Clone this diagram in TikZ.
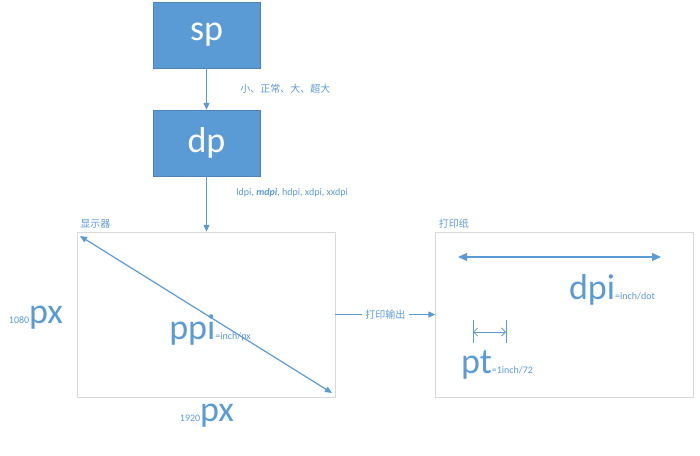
\documentclass[tikz,border=0pt]{standalone}
\usepackage{fontspec}
\setmainfont{Carlito}
\newfontfamily\cjk{Noto Sans CJK SC}
\usetikzlibrary{arrows.meta}
\definecolor{unitblue}{HTML}{5B9BD5}
\definecolor{framegray}{HTML}{D9D9D9}
\newcommand{\smallsize}{\fontsize{10}{11}\selectfont}
\newcommand{\bigsize}{\fontsize{36}{38}\selectfont}
\tikzset{
	unitbox/.style={fill=unitblue, draw=unitblue!85!black, text=white, minimum width=107pt, minimum height=66pt, font=\bigsize},
	device/.style={draw=framegray, minimum width=258pt, minimum height=165pt},
	flow/.style={draw=unitblue, line width=1.2pt, -{Triangle[length=7pt,width=6pt]}},
	note/.style={text=unitblue, font=\smallsize},
	big/.style={text=unitblue, font=\bigsize}
}
\begin{document}
\begin{tikzpicture}[x=1pt, y=-1pt]
	\useasboundingbox (0,0) rectangle (700,455);

	% Units
	\node[unitbox] (sp) at (206.5,35) {sp};
	\node[unitbox] (dp) at (206.5,143) {dp};
	\node[device] (screen) at (206,314.5) {};
	\node[device] (paper) at (564.5,314.5) {};

	\draw[flow] (sp) -- (dp) node[note, midway, right=30pt] {\cjk 小、\textit{正常}、大、超大};
	\draw[flow] (dp.south) -- (screen.north -| dp.south) node[note, pos=0.3, right=26pt] {ldpi, \textbf{\textit{mdpi}}, hdpi, xdpi, xxdpi};

	% Screen
	\node[note, anchor=south west, font=\cjk\smallsize] (screenlabel) at (screen.north west) {显示器};
	\coordinate (diagA) at (80,236);
	\coordinate (diagB) at (332,393);
	\draw[flow, {Triangle[length=7pt,width=6pt]}-{Triangle[length=7pt,width=6pt]}] (diagA) -- (diagB);
	\node[big] (ppi) at (210,330) {ppi\smallsize=inch/px};
	\node[big] (height) at (36,318) {\smallsize 1080\bigsize px};
	\node[big] (width) at (207,416) {\smallsize 1920\bigsize px};

	% Print
	\draw[flow] (screen) -- (paper) node[note, midway, fill=white, font=\cjk\smallsize] {打印输出};
	\node[note, anchor=south west, font=\cjk\smallsize] (paperlabel) at (paper.north west) {打印纸};
	\coordinate (dotA) at (458,257);
	\coordinate (dotB) at (661,257);
	\draw[flow, {Triangle[length=9pt,width=8pt]}-{Triangle[length=9pt,width=8pt]}] (dotA) -- (dotB);
	\node[big] (dpi) at (612,290) {dpi\smallsize=inch/dot};
	\coordinate (ptA) at (473,332);
	\coordinate (ptB) at (506,332);
	\draw[unitblue, line width=0.8pt] (473,320) -- (473,343) (506,320) -- (506,343);
	\draw[unitblue, line width=0.8pt, {Straight Barb[length=4pt]}-{Straight Barb[length=4pt]}] (ptA) -- (ptB);
	\node[big] (pt) at (497,365) {pt\smallsize=1inch/72};
\end{tikzpicture}
\end{document}
